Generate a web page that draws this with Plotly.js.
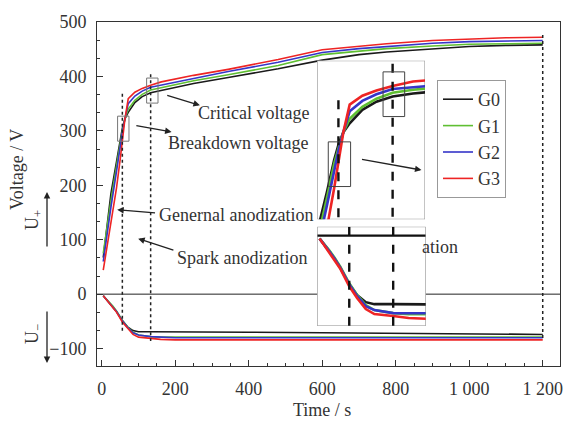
<!DOCTYPE html>
<html><head><meta charset="utf-8">
<script src="https://cdn.plot.ly/plotly-3.0.1.min.js"></script>
<style>html,body{margin:0;padding:0;background:#fff}#chart{width:563px;height:429px}</style>
</head><body><div id="chart"></div>
<script>
// ---- data ----
const seriesNames = ['G0', 'G1', 'G2', 'G3'];
const seriesColors = ['#1a1a1a', '#5fbf32', '#3535c8', '#ee2424'];

// positive voltage (U+) branch
const timePos = [4, 15, 25, 40, 50, 56, 63, 72, 90, 110, 133, 162, 250, 344, 480, 600, 700, 775, 900, 1000, 1100, 1200];
const g0Pos = [67, 130, 185, 243, 285, 305, 322, 334, 352, 363, 370, 374, 387, 398, 414, 430, 440, 445, 451, 455, 457, 458];
const g1Pos = [75, 130, 172, 235, 280, 300, 322, 340, 356, 367, 375, 379, 392, 403, 420, 440, 447, 451, 456, 459, 460, 461];
const g2Pos = [60, 115, 160, 225, 272, 297, 322, 350, 364, 373, 380, 384, 397, 409, 426, 444, 451, 455, 461, 464, 465, 466];
const g3Pos = [44, 90, 132, 195, 247, 280, 322, 359, 371, 378, 384, 390, 402, 413, 431, 449, 456, 460, 466, 469, 471, 472];

// negative voltage (U-) branch
const timeNeg = [4, 10, 20, 30, 40, 56, 70, 85, 100, 133, 160, 200, 400, 600, 800, 1000, 1200];
const g0Neg = [-3, -8, -15, -23, -32, -49, -60, -67, -69, -69, -69, -69, -70, -71, -72, -73, -74];
const g1Neg = [-3, -7, -14, -22, -31, -48, -60, -70, -75, -78, -79, -79, -79, -79, -79, -79, -79];
const g2Neg = [-3, -8, -15, -23, -32, -49, -61, -71, -75, -78, -79, -80, -80, -80, -80, -80, -80];
const g3Neg = [-3, -8, -16, -24, -33, -51, -63, -74, -79, -81, -83, -84, -84, -84, -84, -84, -84];

// stage markers (s)
const breakdownTime = 56;
const criticalTime = 133;
const endTime = 1200;

const xTickVals = [0, 200, 400, 600, 800, 1000, 1200];
const xTickText = ['0', '200', '400', '600', '800', '1 000', '1 200'];
const yTickVals = [-100, 0, 100, 200, 300, 400, 500];
const yTickText = ['\u2212100', '0', '100', '200', '300', '400', '500'];

// ---- build ----
const posSets = [g0Pos, g1Pos, g2Pos, g3Pos];
const negSets = [g0Neg, g1Neg, g2Neg, g3Neg];
const FONT = 'Liberation Serif, Times New Roman, serif';
const TXT = '#333';

const traces = [];
seriesNames.forEach((n, i) => {
  traces.push({x: timePos, y: posSets[i], type: 'scatter', mode: 'lines', name: n,
    line: {color: seriesColors[i], width: 1.6}, legendgroup: n, showlegend: true});
  traces.push({x: timeNeg, y: negSets[i], type: 'scatter', mode: 'lines', name: n,
    line: {color: seriesColors[i], width: 1.6}, legendgroup: n, showlegend: false});
});
seriesNames.forEach((n, i) => {
  traces.push({x: timePos, y: posSets[i], xaxis: 'x2', yaxis: 'y2', type: 'scatter', mode: 'lines',
    line: {color: seriesColors[i], width: 2.6}, showlegend: false, hoverinfo: 'skip'});
  traces.push({x: timeNeg, y: negSets[i], xaxis: 'x3', yaxis: 'y3', type: 'scatter', mode: 'lines',
    line: {color: seriesColors[i], width: 2.6}, showlegend: false, hoverinfo: 'skip'});
});

// pixel helpers for annotation placement (layout, not data)
const L = 97, R = 560, T = 22, B = 366;
const px = v => (v - L) / (R - L);
const py = v => (B - v) / (B - T);

const in1 = {x: [26, 179], y: [205, 418]};
const in2 = {x: [0, 190], y: [-91, 9]};

const dotLine = {color: '#222', width: 1.5, dash: 'dot'};
const dashThick = {color: '#111', width: 2.4, dash: 'dash'};
const shapes = [
  {type: 'line', xref: 'paper', x0: 0, x1: 1, yref: 'y', y0: 0, y1: 0, layer: 'below', line: {color: '#222', width: 1}},
  {type: 'line', xref: 'x', yref: 'y', x0: breakdownTime, x1: breakdownTime, y0: 368, y1: -72, line: dotLine},
  {type: 'line', xref: 'x', yref: 'y', x0: criticalTime, x1: criticalTime, y0: 404, y1: -86, line: dotLine},
  {type: 'line', xref: 'x', yref: 'y', x0: endTime, x1: endTime, y0: 476, y1: -86, line: dotLine},
  {type: 'rect', xref: 'x', yref: 'y', x0: 43, x1: 74, y0: 281, y1: 327, line: {color: '#777', width: 1}},
  {type: 'rect', xref: 'x', yref: 'y', x0: 122, x1: 153, y0: 351, y1: 397, line: {color: '#777', width: 1}},
  // inset 1 frame
  {type: 'rect', xref: 'x2', yref: 'y2', x0: in1.x[0], x1: in1.x[1], y0: in1.y[0], y1: in1.y[1], layer: 'below', fillcolor: '#fff', line: {color: '#888', width: 1}},
  {type: 'line', xref: 'x2', yref: 'y2', x0: breakdownTime, x1: breakdownTime, y0: 365, y1: in1.y[0], line: dashThick},
  {type: 'line', xref: 'x2', yref: 'y2', x0: criticalTime, x1: criticalTime, y0: 414, y1: in1.y[0], line: dashThick},
  {type: 'rect', xref: 'x2', yref: 'y2', x0: 41.6, x1: 73.3, y0: 249, y1: 309, line: {color: '#444', width: 1}},
  {type: 'rect', xref: 'x2', yref: 'y2', x0: 119.4, x1: 150.1, y0: 343, y1: 403, line: {color: '#444', width: 1}},
  // inset 2 frame
  {type: 'rect', xref: 'x3', yref: 'y3', x0: in2.x[0], x1: in2.x[1], y0: in2.y[0], y1: in2.y[1], layer: 'below', fillcolor: '#fff', line: {color: '#888', width: 1}},
  {type: 'line', xref: 'x3', yref: 'y3', x0: in2.x[0], x1: in2.x[1], y0: 0, y1: 0, line: {color: '#111', width: 2.4}},
  {type: 'line', xref: 'x3', yref: 'y3', x0: breakdownTime, x1: breakdownTime, y0: in2.y[1], y1: in2.y[0], line: dashThick},
  {type: 'line', xref: 'x3', yref: 'y3', x0: criticalTime, x1: criticalTime, y0: in2.y[1], y1: in2.y[0], line: dashThick}
];

const af = {family: FONT, size: 18, color: TXT};
const arrow = (x, y, ax, ay) => ({xref: 'x', yref: 'y', x: x, y: y, axref: 'x', ayref: 'y', ax: ax, ay: ay,
  text: '', showarrow: true, arrowhead: 2, arrowsize: 1, arrowwidth: 1.3, arrowcolor: '#222', standoff: 0});
const label = (x, y, text, extra) => Object.assign({xref: 'paper', yref: 'paper', x: px(x), y: py(y),
  xanchor: 'center', yanchor: 'middle', text: text, showarrow: false, font: af}, extra || {});
const annotations = [
  {xref: 'x', yref: 'y', x: 414, y: 333, xanchor: 'center', yanchor: 'middle', text: 'Critical voltage', showarrow: false, font: af},
  {xref: 'x', yref: 'y', x: 370, y: 278, xanchor: 'center', yanchor: 'middle', text: 'Breakdown voltage', showarrow: false, font: af},
  {xref: 'x', yref: 'y', x: 365, y: 146, xanchor: 'center', yanchor: 'middle', text: 'Genernal anodization', showarrow: false, font: af},
  {xref: 'x', yref: 'y', x: 381, y: 67, xanchor: 'center', yanchor: 'middle', text: 'Spark anodization', showarrow: false, font: af},
  label(420, 247, 'ation', {xanchor: 'left'}),
  arrow(267, 347, 174, 366),
  arrow(190, 298, 90, 310),
  arrow(42, 155, 149, 149),
  arrow(99, 102, 199, 80),
  arrow(870, 228, 704, 248),
  label(322, 410, 'Time / s'),
  label(17, 170, 'Voltage / V', {textangle: -90}),
  label(33, 220, 'U<sub>+</sub>', {textangle: -90}),
  label(33, 334, 'U<sub>\u2212</sub>', {textangle: -90}),
  {xref: 'paper', yref: 'paper', x: px(47), y: py(192), ax: 0, ay: 56, text: '', showarrow: true, arrowhead: 2, arrowsize: 1, arrowwidth: 1.3, arrowcolor: '#222'},
  {xref: 'paper', yref: 'paper', x: px(47), y: py(363), ax: 0, ay: -53, text: '', showarrow: true, arrowhead: 2, arrowsize: 1, arrowwidth: 1.3, arrowcolor: '#222'}
];

const hiddenAxis = {showline: false, showgrid: false, zeroline: false, showticklabels: false, ticks: '', fixedrange: true};

const layout = {
  width: 563, height: 429,
  margin: {l: L, r: 563 - R, t: T, b: 429 - B},
  paper_bgcolor: '#fff', plot_bgcolor: '#fff',
  font: {family: FONT, size: 18, color: TXT},
  showlegend: true,
  legend: {x: px(437), y: py(80), xanchor: 'left', yanchor: 'top', bgcolor: '#fff', bordercolor: '#999', borderwidth: 1,
    font: {family: FONT, size: 18, color: TXT}, tracegroupgap: 0},
  xaxis: {range: [-13, 1247], tickmode: 'array', tickvals: xTickVals, ticktext: xTickText,
    ticks: 'inside', ticklen: 6, tickcolor: '#333', showline: true, linecolor: '#333', linewidth: 1, mirror: true,
    showgrid: false, zeroline: false, ticklabelstandoff: 6,
    minor: {tickmode: 'linear', tick0: 0, dtick: 50, ticks: 'inside', ticklen: 3, tickcolor: '#333', showgrid: false}},
  yaxis: {range: [-132, 500], tickmode: 'array', tickvals: yTickVals, ticktext: yTickText,
    ticks: 'inside', ticklen: 6, tickcolor: '#333', showline: true, linecolor: '#333', linewidth: 1, mirror: true,
    showgrid: false, zeroline: false, ticklabelstandoff: 6,
    minor: {tickmode: 'linear', tick0: 0, dtick: 100 / 3, ticks: 'inside', ticklen: 3, tickcolor: '#333', showgrid: false}},
  xaxis2: Object.assign({domain: [px(317.3), px(425)], range: in1.x, anchor: 'y2'}, hiddenAxis),
  yaxis2: Object.assign({domain: [py(219.3), py(60.7)], range: in1.y, anchor: 'x2'}, hiddenAxis),
  xaxis3: Object.assign({domain: [px(317.3), px(425.7)], range: in2.x, anchor: 'y3'}, hiddenAxis),
  yaxis3: Object.assign({domain: [py(326), py(226.7)], range: in2.y, anchor: 'x3'}, hiddenAxis),
  shapes: shapes,
  annotations: annotations
};

Plotly.newPlot('chart', traces, layout, {displayModeBar: false, staticPlot: true});
</script></body></html>
